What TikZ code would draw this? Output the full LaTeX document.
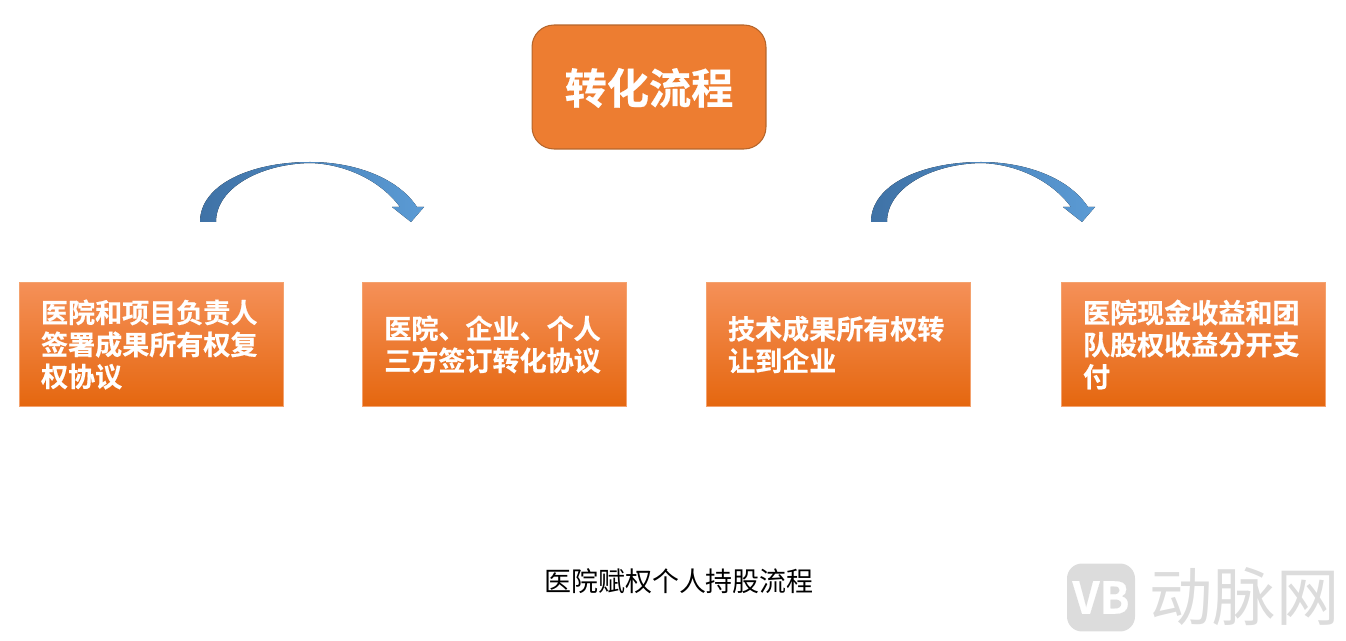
\documentclass[tikz,border=0pt]{standalone}
\usepackage{fontspec}
\newfontfamily\cjk{Noto Sans CJK SC}
\newfontfamily\cjkbold[FakeBold=0.5]{Noto Sans CJK SC Bold}
\definecolor{titleorange}{HTML}{ED7D31}
\definecolor{titleedge}{HTML}{B5652B}
\definecolor{boxtop}{HTML}{F59058}
\definecolor{boxbottom}{HTML}{E5670F}
\definecolor{boxedge}{HTML}{F4A26E}
\definecolor{arrowdark}{HTML}{3F72A6}
\definecolor{arrowlight}{HTML}{5B9BD5}
\definecolor{markgray}{HTML}{DCDCDC}
\tikzset{
  titlebox/.style={draw=titleedge, fill=titleorange, rounded corners=0.44cm, line width=0.6pt,
    minimum width=4.68cm, minimum height=2.48cm, text=white, text depth=0.04cm, font=\cjkbold\fontsize{24}{28}\selectfont},
  stepbox/.style={draw=boxedge, top color=boxtop, bottom color=boxbottom, line width=0.5pt,
    minimum width=5.28cm, minimum height=2.48cm, text width=4.42cm, align=left, text=white,
    font=\cjkbold\fontsize{15.4}{18.2}\selectfont},
  bendarrow/.style={left color=arrowdark, middle color=arrowlight, right color=arrowlight, draw=none},
}
\begin{document}
\begin{tikzpicture}[x=0.02cm,y=-0.02cm]
  \useasboundingbox (0,0) rectangle (1346,641);
  \node[titlebox] (title) at (649,87) {转化流程};
  \node[stepbox] (sign) at (151.5,344.5) {医院和项目负责人\\签署成果所有权复\\权协议};
  \node[stepbox] (three) at (494.8,344.5) {医院、企业、个人\\三方签订转化协议};
  \node[stepbox] (transfer) at (838.5,344.5) {技术成果所有权转\\让到企业};
  \node[stepbox] (income) at (1193.5,344.5) {医院现金收益和团\\队股权收益分开支\\付};
  \node[font=\cjk\fontsize{15.35}{18}\selectfont] (caption) at (679,581) {医院赋权个人持股流程};
  % curved arrows
  \fill[bendarrow] (200,222) .. controls (200,185) and (250,162) .. (310,162)
    .. controls (355,162) and (398,178) .. (417,207) -- (424,207) -- (411,222) -- (392,207) -- (400,207)
    .. controls (380,180) and (345,164) .. (310,163) .. controls (260,164) and (216,188) .. (216,222) -- cycle;
  \fill[bendarrow] (871,222) .. controls (871,185) and (921,162) .. (981,162)
    .. controls (1026,162) and (1069,178) .. (1088,207) -- (1095,207) -- (1082,222) -- (1063,207) -- (1071,207)
    .. controls (1051,180) and (1016,164) .. (981,163) .. controls (931,164) and (887,188) .. (887,222) -- cycle;
  % watermark
  \node[fill=markgray, rounded corners=0.3cm, inner sep=0pt, minimum size=1.36cm, text=white,
    font=\cjkbold\fontsize{25}{27}\selectfont] (logo) at (1101,597.5) {VB};
  \node[text=markgray, font=\cjk\fontsize{36}{38}\selectfont] (mark) at (1244.5,597) {动脉网};
\end{tikzpicture}
\end{document}
